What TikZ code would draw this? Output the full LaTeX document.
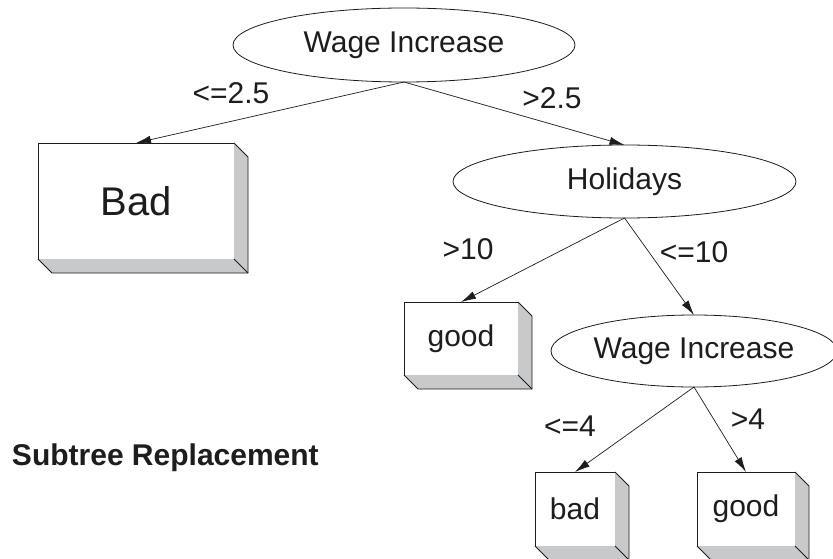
\documentclass[tikz,border=0pt]{standalone}
\usepackage{fontspec}
\setmainfont{Liberation Sans}
\usetikzlibrary{shapes.geometric,arrows.meta,calc}
\definecolor{ink}{RGB}{30,28,30}
\definecolor{boxgray}{RGB}{200,201,203}

% shaded right and bottom faces of a solid block
\newcommand{\blockfaces}[1]{%
  \fill[boxgray] (#1.north east) -- ++(14,14) -- ($(#1.south east)+(14,14)$)
    -- ($(#1.south west)+(14,14)$) -- (#1.south west) -- (#1.south east) -- cycle;
  \draw[ink,line width=0.8pt,line join=round] (#1.north east) -- ++(14,14)
    -- ($(#1.south east)+(14,14)$) -- ($(#1.south west)+(14,14)$) -- (#1.south west);
  \draw[ink,line width=0.8pt] (#1.south east) -- ++(14,14);
}

\begin{document}
\begin{tikzpicture}[x=1pt,y=-1pt,
  every node/.style={text=ink,inner sep=0pt,outer sep=0pt},
  test/.style={ellipse,draw=ink,line width=0.8pt,fill=white,
    font=\fontsize{30}{36}\selectfont},
  leafbox/.style={rectangle,draw=ink,line width=0.8pt,fill=white,
    font=\fontsize{30}{36}\selectfont},
  branch/.style={font=\fontsize{30}{36}\selectfont},
  edge/.style={draw=ink,line width=0.7pt,-{Latex[length=15pt,width=8pt]}}]

\fill[white] (0,0) rectangle (833,559);
\useasboundingbox (0,0) rectangle (833,559);

% decision nodes
\node[test,minimum width=342pt,minimum height=74pt] (wi1) at (404,45) {Wage Increase};
\node[test,minimum width=343pt,minimum height=73pt] (hol) at (624.5,181.5) {Holidays};
\node[test,minimum width=286pt,minimum height=72pt] (wi2) at (694,351) {Wage Increase};

% leaves
\node[leafbox,minimum width=196pt,minimum height=116pt,
  font=\fontsize{40}{48}\selectfont] (bad1) at (136,201) {Bad};
\node[leafbox,minimum width=114pt,minimum height=73pt] (good1) at (461,338.5) {good};
\node[leafbox,minimum width=80pt,minimum height=74pt] (bad2) at (575,509) {bad};
\node[leafbox,minimum width=98pt,minimum height=74pt] (good2) at (746,509) {good};

\blockfaces{bad1}
\blockfaces{good1}
\blockfaces{bad2}
\blockfaces{good2}

% branches
\draw[edge] (wi1.south) -- (bad1.north);
\draw[edge] (wi1.south) -- (hol.north);
\draw[edge] (hol.south) -- (good1.north);
\draw[edge] (hol.south) -- (wi2.north);
\draw[edge] (wi2.south) -- (bad2.north);
\draw[edge] (wi2.south) -- (good2.north);

% branch conditions
\node[branch] (c1) at (231,93) {<=2.5};
\node[branch] (c2) at (552,98) {>2.5};
\node[branch] (c3) at (468,249) {>10};
\node[branch] (c4) at (694,252) {<=10};
\node[branch] (c5) at (570,426) {<=4};
\node[branch] (c6) at (748,419) {>4};

% caption
\node[anchor=base west,font=\bfseries\fontsize{30}{36}\selectfont] (cap) at (12,465) {Subtree Replacement};

\end{tikzpicture}
\end{document}
